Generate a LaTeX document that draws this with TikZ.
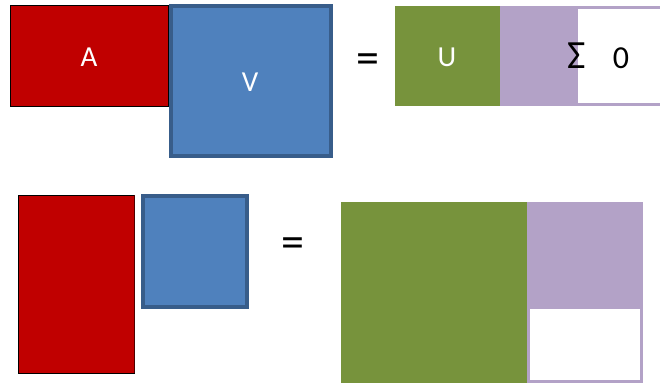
\documentclass[tikz,border=0pt]{standalone}
\usepackage{fontspec}
\setmainfont{Carlito}
\definecolor{matred}{HTML}{C00000}
\definecolor{matblue}{HTML}{4F81BD}
\definecolor{matblueedge}{HTML}{385D8A}
\definecolor{matgreen}{HTML}{77933C}
\definecolor{matpurple}{HTML}{B3A2C7}
\begin{document}
\begin{tikzpicture}[x=1pt,y=-1pt,
  redmat/.style={fill=matred,draw=black,line width=0.8pt},
  bluemat/.style={fill=matblue,draw=matblueedge,line width=3.2pt},
  greenmat/.style={fill=matgreen,draw=none},
  purplemat/.style={fill=matpurple,draw=none},
  zeromat/.style={fill=white,draw=none},
  lbl/.style={text=white,font=\fontsize{29}{32}\selectfont},
  blk/.style={text=black,font=\fontsize{32}{36}\selectfont},
  eqsign/.style={font=\fontsize{46}{50}\selectfont}]
\useasboundingbox (0,0) rectangle (660,383);

% top row: A V = U Sigma
\path[redmat] (10,5) rectangle (168,106);
\node[lbl] (A) at (89,57) {A};
\path[bluemat] (171,6) rectangle (331,156);
\node[lbl] (V) at (250,82) {V};
\node[eqsign] (eq1) at (368,64) {=};
\path[greenmat] (395,6) rectangle (500,106);
\node[lbl] (U) at (447,57) {U};
\path[purplemat] (500,6) rectangle (660,106);
\path[zeromat] (578,9) rectangle (660,103);
\node[blk,font=\fontsize{40}{44}\selectfont] (S) at (577,56) {Σ};
\node[blk] (Z) at (621,58) {0};

% bottom row: tall A, V, = , U with Sigma
\path[redmat] (18,195) rectangle (134,373);
\draw[black!60!matred,line width=1pt] (134,195) -- (134,373);
\path[bluemat] (143,196) rectangle (247,307);
\node[eqsign] (eq2) at (293,248) {=};
\path[greenmat] (341,202) rectangle (527,383);
\path[purplemat] (527,202) rectangle (643,383);
\path[zeromat] (530,309) rectangle (640,380);
\end{tikzpicture}
\end{document}
